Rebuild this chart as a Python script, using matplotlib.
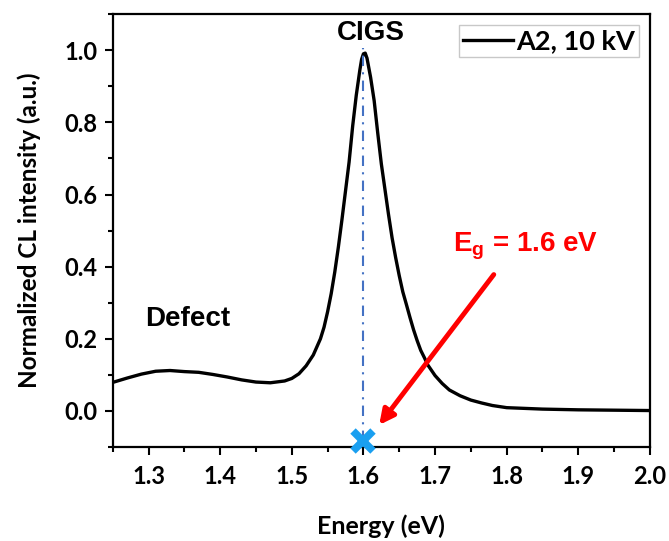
import matplotlib
matplotlib.use("Agg")
import matplotlib.pyplot as plt
from matplotlib.ticker import MultipleLocator

plt.rcParams["mathtext.fontset"] = "custom"
plt.rcParams["mathtext.rm"] = "Liberation Sans:bold"
plt.rcParams["mathtext.bf"] = "Liberation Sans:bold"

# CL spectrum (A2, 10 kV)
energy = [1.25, 1.27, 1.29, 1.31, 1.33, 1.35, 1.37, 1.39, 1.41, 1.43,
          1.45, 1.47, 1.49, 1.50, 1.51, 1.52, 1.53, 1.54, 1.545, 1.55,
          1.555, 1.56, 1.565, 1.57, 1.575, 1.58, 1.585, 1.59, 1.595, 1.5975,
          1.60, 1.6025, 1.605, 1.61, 1.615, 1.62, 1.625, 1.63, 1.635, 1.64,
          1.645, 1.65, 1.655, 1.66, 1.665, 1.67, 1.675, 1.68, 1.685, 1.69,
          1.70, 1.71, 1.72, 1.735, 1.75, 1.765, 1.78, 1.80, 1.85, 1.90,
          1.95, 2.00]
intensity = [0.079, 0.091, 0.102, 0.110, 0.112, 0.109, 0.107, 0.101, 0.094, 0.086,
             0.080, 0.078, 0.083, 0.090, 0.103, 0.125, 0.155, 0.200, 0.232, 0.275,
             0.325, 0.385, 0.454, 0.530, 0.610, 0.690, 0.790, 0.875, 0.945, 0.975,
             0.990, 0.992, 0.978, 0.925, 0.860, 0.770, 0.685, 0.615, 0.545, 0.480,
             0.425, 0.375, 0.330, 0.295, 0.259, 0.225, 0.195, 0.168, 0.148, 0.127,
             0.098, 0.076, 0.058, 0.042, 0.030, 0.022, 0.015, 0.009, 0.005, 0.003,
             0.002, 0.001]

eg = 1.6
eg_marker_y = -0.083

fig = plt.figure(figsize=(6.69, 5.41), dpi=100)
ax = fig.add_axes([0.1685, 0.1738, 0.803, 0.800])

ax.plot(energy, intensity, color="black", lw=2.4, label="A2, 10 kV")
ax.plot([eg, eg], [eg_marker_y, 1.005], color="#4472C4", lw=1.5,
        linestyle=(0, (5, 3, 1, 3)))
ax.plot([eg], [eg_marker_y], marker="x", color="#1a9ff0", ms=14, mew=5.5,
        clip_on=False, zorder=5)

ax.set_xlim(1.25, 2.0)
ax.set_ylim(-0.1, 1.1)
ax.xaxis.set_major_locator(MultipleLocator(0.1))
ax.xaxis.set_minor_locator(MultipleLocator(0.05))
ax.yaxis.set_major_locator(MultipleLocator(0.2))
ax.yaxis.set_minor_locator(MultipleLocator(0.1))
ax.xaxis.set_major_formatter(lambda v, _: f"{v:.1f}")
ax.yaxis.set_major_formatter(lambda v, _: f"{v:.1f}")

for s in ax.spines.values():
    s.set_linewidth(1.6)
ax.tick_params(which="major", direction="out", length=6, width=1.5, pad=5,
               labelsize=17)
ax.tick_params(axis="x", which="major", pad=7)
ax.tick_params(which="minor", direction="out", length=3.5, width=1.5)
for lab in ax.get_xticklabels() + ax.get_yticklabels():
    lab.set_family("Lato")
    lab.set_fontweight("bold")

ax.set_xlabel("Energy (eV)", family="Lato", fontweight="bold", fontsize=18,
              labelpad=19)
ax.set_ylabel("Normalized CL intensity (a.u.)", family="Lato",
              fontweight="bold", fontsize=17.5, labelpad=17)

ax.text(1.6106, 1.047, "CIGS", family="Liberation Sans", fontweight="bold",
        fontsize=20, ha="center", va="center")
ax.text(1.354, 0.256, "Defect", family="Liberation Sans", fontweight="bold",
        fontsize=20, ha="center", va="center")
ax.text(1.827, 0.442, r"E$_\mathrm{g}$ = 1.6 eV", family="Liberation Sans",
        fontweight="bold", fontsize=20, color="#ff0000", ha="center",
        va="baseline")
ax.annotate("", xy=(1.622, -0.039), xytext=(1.782, 0.378),
            arrowprops=dict(arrowstyle="-|>", color="#ff0000", lw=3.5,
                            mutation_scale=22, shrinkA=0, shrinkB=0))

leg = ax.legend(loc="upper right", prop={"family": "Lato", "weight": "bold",
                                         "size": 19.5},
                frameon=True, fancybox=False, framealpha=1,
                edgecolor="#c8c8c8", handlelength=1.85, handletextpad=0.1,
                borderpad=0.15, borderaxespad=0.4)
leg.get_frame().set_linewidth(1.0)

fig.savefig("out.png", dpi=100)
